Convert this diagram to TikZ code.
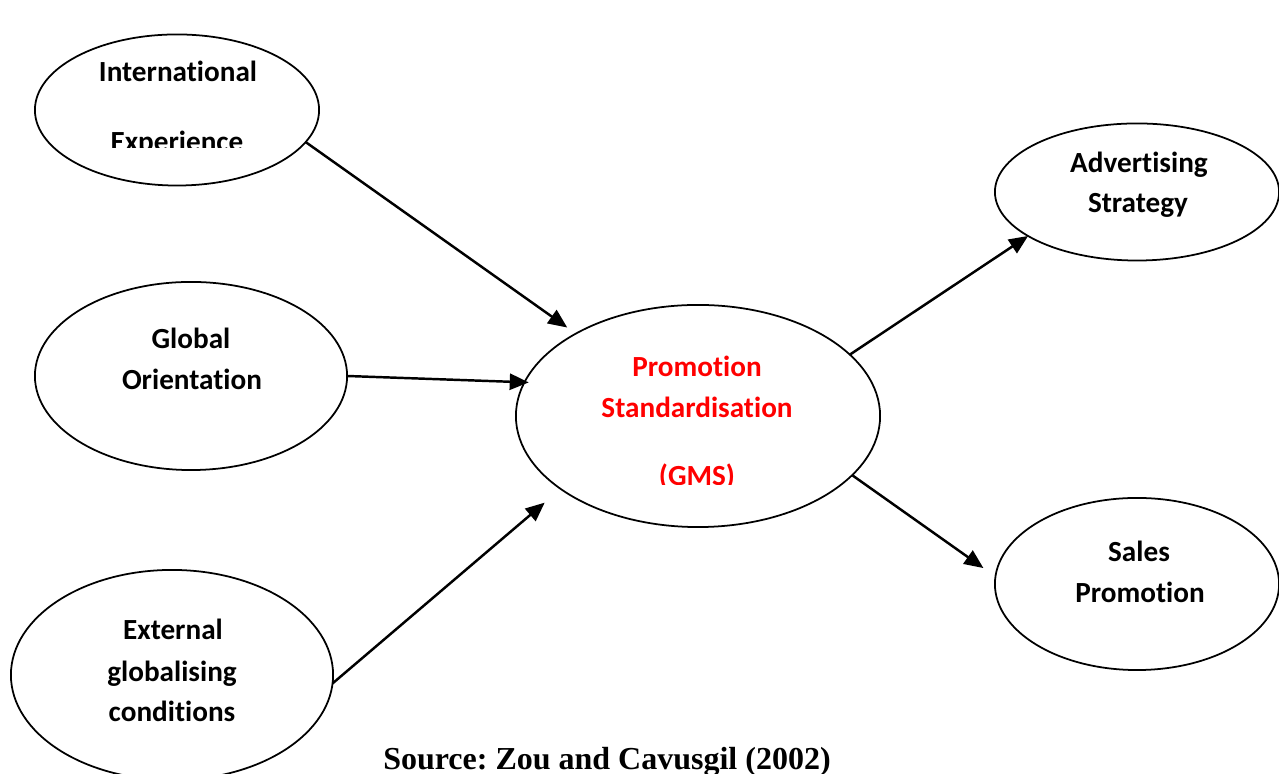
\documentclass[tikz,border=0pt]{standalone}
\usepackage{fontspec}
\setmainfont{Carlito}[Ligatures={NoCommon,NoContextual,NoRare}]
\newfontfamily\srcfont{Liberation Serif}
\usetikzlibrary{shapes.geometric,arrows.meta}
% keep "t" and "i" as separate glyphs
\newcommand\tsep{t\kern0pt i}
\begin{document}
\frenchspacing
\begin{tikzpicture}[x=0.01cm,y=-0.01cm,
  oval/.style={ellipse,draw,line width=0.5pt,inner sep=0pt,outer sep=0pt},
  lbl/.style={anchor=base,inner sep=0pt,font=\fontsize{8.3}{10}\selectfont\bfseries},
  redlbl/.style={lbl,text={rgb,255:red,255;green,0;blue,0}},
  link/.style={line width=0.7pt,-{Triangle[length=5.4pt,width=4.6pt]}}]
\useasboundingbox (0,0) rectangle (1279,774);

% factor ovals
\node[oval,minimum width=2.84cm,minimum height=1.51cm] (ie) at (177,110) {};
\node[oval,minimum width=3.12cm,minimum height=1.88cm] (go) at (191,376) {};
\node[oval,minimum width=3.22cm,minimum height=2.10cm] (eg) at (172,675) {};
\node[oval,minimum width=3.64cm,minimum height=2.22cm] (gms) at (698,416) {};
\node[oval,minimum width=2.84cm,minimum height=1.37cm] (as) at (1137,192) {};
\node[oval,minimum width=2.84cm,minimum height=1.72cm] (sp) at (1137,584) {};

% labels
\node[lbl] (ie1) at (178,82) {Interna\tsep onal};
\begin{scope}
  \clip (100,120) rectangle (260,148);
  \node[lbl] (ie2) at (177,152) {Experience};
\end{scope}
\node[lbl] (go1) at (191,349) {Global};
\node[lbl] (go2) at (192,390) {Orienta\tsep on};
\node[lbl] (eg1) at (173,640) {External};
\node[lbl] (eg2) at (172,682) {globalising};
\node[lbl] (eg3) at (172,722) {condi\tsep ons};
\node[redlbl] (gms1) at (697,377) {Promo\tsep on};
\node[redlbl] (gms2) at (697,418) {Standardisa\tsep on};
\begin{scope}
  \clip (640,455) rectangle (760,485);
  \node[redlbl] (gms3) at (697,486) {(GMS)};
\end{scope}
\node[lbl] (as1) at (1139,173) {Adver\tsep sing};
\node[lbl] (as2) at (1138,213) {Strategy};
\node[lbl] (sp1) at (1139,562) {Sales};
\node[lbl] (sp2) at (1140,603) {Promo\tsep on};

% influences
\draw[link,shorten >=3pt] (ie.-14) -- (gms.146.7);
\draw[link,shorten >=-1.2pt] (go.0) -- (gms.169.4);
\draw[link,shorten >=6pt] (eg.-3) -- (gms.208.2);
\draw[link] (gms.22.4) -- (as.202.5);
\draw[link,shorten >=4.2pt] (gms.-21.4) -- (sp.177.8);

\node[anchor=base,inner sep=0pt,font=\srcfont\fontsize{9.1}{11}\selectfont\bfseries] (src) at (607,770) {Source: Zou and Cavusgil (2002)};
\end{tikzpicture}
\end{document}
